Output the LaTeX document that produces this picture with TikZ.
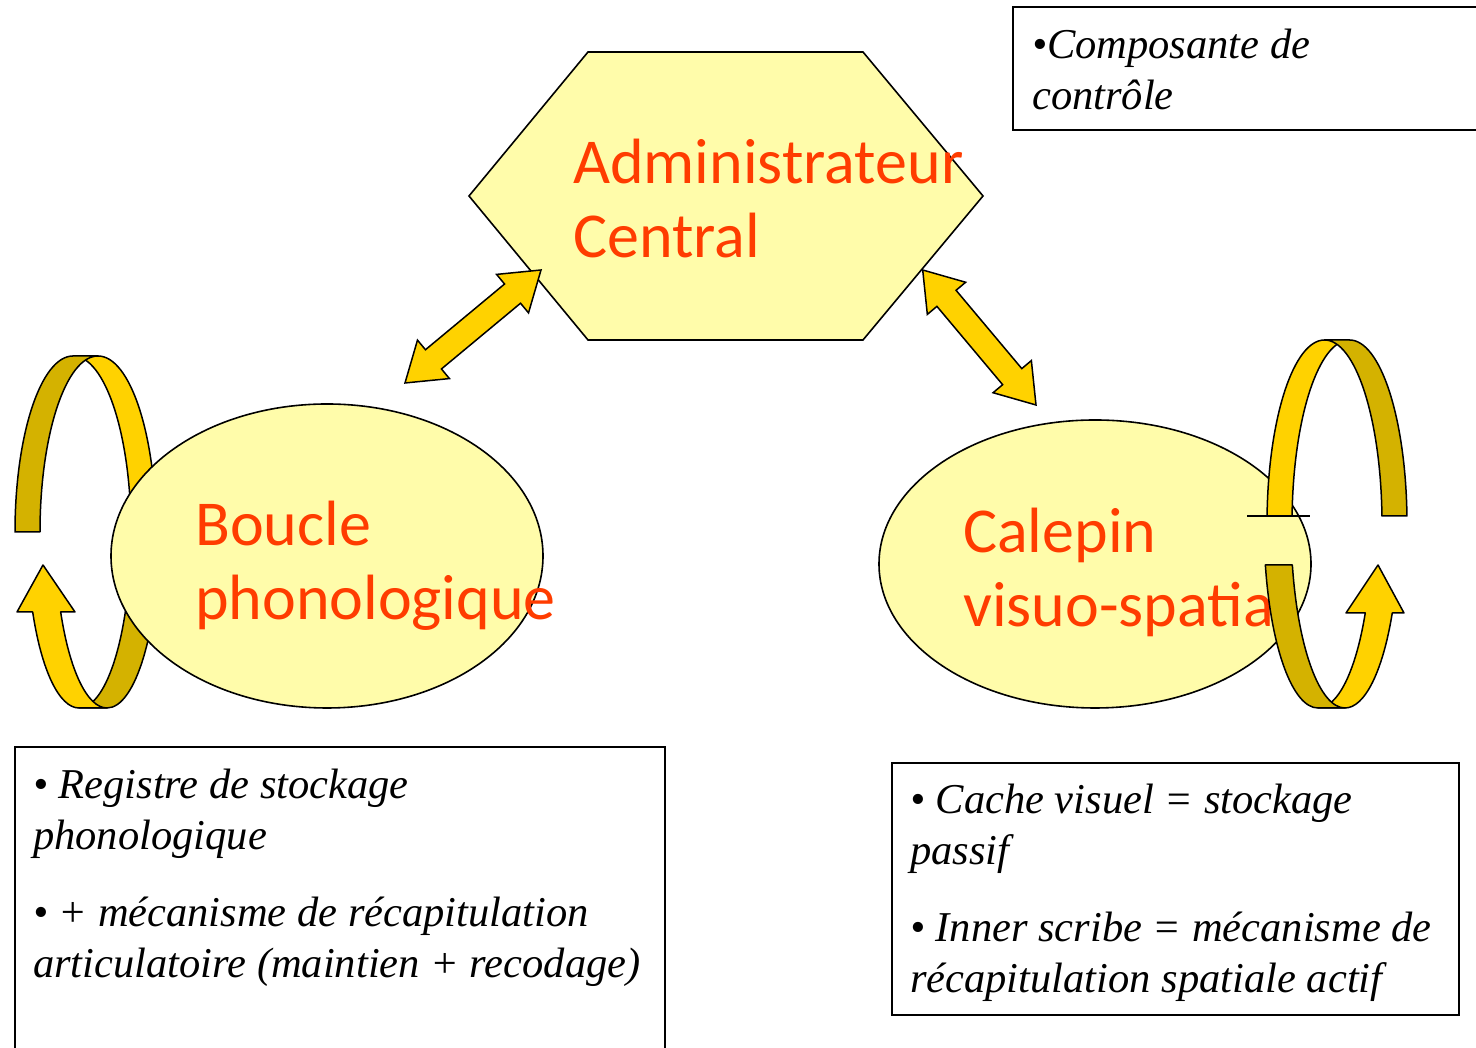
\documentclass[tikz,border=0pt]{standalone}
\usepackage{fontspec}
\usetikzlibrary{shapes.geometric,calc}
\newfontfamily\labelfont{Carlito}
\newfontfamily\notefont{Liberation Serif}

\definecolor{shapefill}{RGB}{255,252,170}
\definecolor{labelred}{RGB}{255,60,0}
\definecolor{gold}{RGB}{255,210,0}
\definecolor{darkgold}{RGB}{212,178,0}

\tikzset{
  component/.style={draw=black, line width=1.6pt, fill=shapefill},
  ringfront/.style={draw=black, line width=1.5pt, line join=round, fill=gold},
  ringback/.style={draw=black, line width=1.5pt, line join=round, fill=darkgold},
  blockarrow/.style={draw=black, line width=1.5pt, line join=miter, fill=gold},
  % multi-line nodes: the base anchor sits on the last line
  labeltext/.style={inner sep=0pt, anchor=base west, align=left, text=labelred,
    font=\labelfont\fontsize{64}{74}\selectfont},
  notetext/.style={inner sep=0pt, anchor=base west, align=left,
    font=\notefont\itshape\fontsize{42.5}{51}\selectfont},
  notebox/.style={draw=black, line width=1.6pt},
}

% double-headed block arrow between two named points
\newcommand\doublearrow[2]{%
  \draw[blockarrow] (#1)
    -- ($(#1)!37pt!(#2)!25pt!90:(#2)$)
    -- ($(#1)!37pt!(#2)!12.5pt!90:(#2)$)
    -- ($(#2)!37pt!(#1)!12.5pt!-90:(#1)$)
    -- ($(#2)!37pt!(#1)!25pt!-90:(#1)$)
    -- (#2)
    -- ($(#2)!37pt!(#1)!25pt!90:(#1)$)
    -- ($(#2)!37pt!(#1)!12.5pt!90:(#1)$)
    -- ($(#1)!37pt!(#2)!12.5pt!-90:(#2)$)
    -- ($(#1)!37pt!(#2)!25pt!-90:(#2)$)
    -- cycle;}

\begin{document}
\begin{tikzpicture}[x=1pt, y=1pt]
\useasboundingbox (0,0) rectangle (1476,1048);

% ---- rehearsal loop around the phonological loop (behind the ellipse)
\draw[ringfront] (73,516) ++(90:58 and 176)
  arc[start angle=90, end angle=0, x radius=58, y radius=176] -- ++(25,0)
  arc[start angle=0, end angle=90, x radius=58, y radius=176] -- cycle;
\draw[ringback] (73,516) ++(180:58 and 176)
  arc[start angle=180, end angle=90, x radius=58, y radius=176] -- ++(25,0)
  arc[start angle=90, end angle=180, x radius=58, y radius=176] -- cycle;
\draw[ringback] (79,516) ++(270:52 and 176)
  arc[start angle=270, end angle=360, x radius=52, y radius=176] -- ++(28,0)
  arc[start angle=360, end angle=270, x radius=52, y radius=176] -- cycle;
\draw[ringfront] (79,516) ++(207.04:52 and 176)
  arc[start angle=207.04, end angle=270, x radius=52, y radius=176] -- ++(28,0)
  arc[start angle=270, end angle=207.04, x radius=52, y radius=176]
  -- (75,436) -- (43,483) -- (17,436) -- cycle;

% ---- the three components
\node[component, ellipse, minimum width=432pt, minimum height=304pt, inner sep=0pt]
  (boucle) at (327,492) {};
\node[labeltext] (bouclelabel) at (195,428) {Boucle\\phonologique};

\draw[component] (588,996) -- (863,996) -- (983,852) -- (863,708)
  -- (588,708) -- (469,852) -- cycle;
\coordinate (admin) at (726,852);
\node[labeltext] (adminlabel) at (573,790) {Administrateur\\Central};

\node[component, ellipse, minimum width=432pt, minimum height=288pt, inner sep=0pt]
  (calepin) at (1095,484) {};
\node[labeltext] (calepinlabel) at (963,421) {Calepin\\visuo-spatial};

% ---- rehearsal loop around the visuo-spatial sketchpad (in front)
\draw[ringfront] (1324.5,524) ++(177.5:57.5 and 184)
  arc[start angle=177.5, end angle=90, x radius=57.5, y radius=184] -- ++(25,0)
  arc[start angle=90, end angle=177.5, x radius=57.5, y radius=184] -- cycle;
\draw[ringback] (1324.5,524) ++(90:57.5 and 184)
  arc[start angle=90, end angle=2.5, x radius=57.5, y radius=184] -- ++(25,0)
  arc[start angle=2.5, end angle=90, x radius=57.5, y radius=184] -- cycle;
\draw[ringfront] (1318,524) ++(270:54 and 184)
  arc[start angle=270, end angle=331.07, x radius=54, y radius=184]
  -- (1346,435) -- (1378,483) -- (1404,435) -- (1392.26,435)
  arc[start angle=331.07, end angle=270, x radius=54, y radius=184] -- cycle;
\draw[ringback] (1318,524) ++(192.87:54 and 184)
  arc[start angle=192.87, end angle=270, x radius=54, y radius=184] -- ++(27,0)
  arc[start angle=270, end angle=192.87, x radius=54, y radius=184] -- cycle;
\draw[line width=2pt] (1247,532) -- (1310,532);

% ---- exchanges with the central executive
\coordinate (boucleend) at (405,665);
\coordinate (adminSW) at (541,778);
\coordinate (adminSE) at (922.7,778);
\coordinate (calepinend) at (1036,643);
\doublearrow{boucleend}{adminSW}
\doublearrow{adminSE}{calepinend}

% ---- annotations
\draw[notebox] (1013,1041) rectangle (1490,918);
\node[notetext] (controlnote) at (1032,938) {•Composante de\\contrôle};

\draw[notebox] (15,301) rectangle (665,-20);
\node[notetext] (bouclenote) at (33,70)
  {• Registre de stockage\\phonologique\\[26pt]• + mécanisme de récapitulation\\articulatoire (maintien + recodage)};

\draw[notebox] (892,285) rectangle (1459,33);
\node[notetext] (calepinnote) at (910,55)
  {• Cache visuel = stockage\\passif\\[26pt]• Inner scribe = mécanisme de\\récapitulation spatiale actif};
\end{tikzpicture}
\end{document}
